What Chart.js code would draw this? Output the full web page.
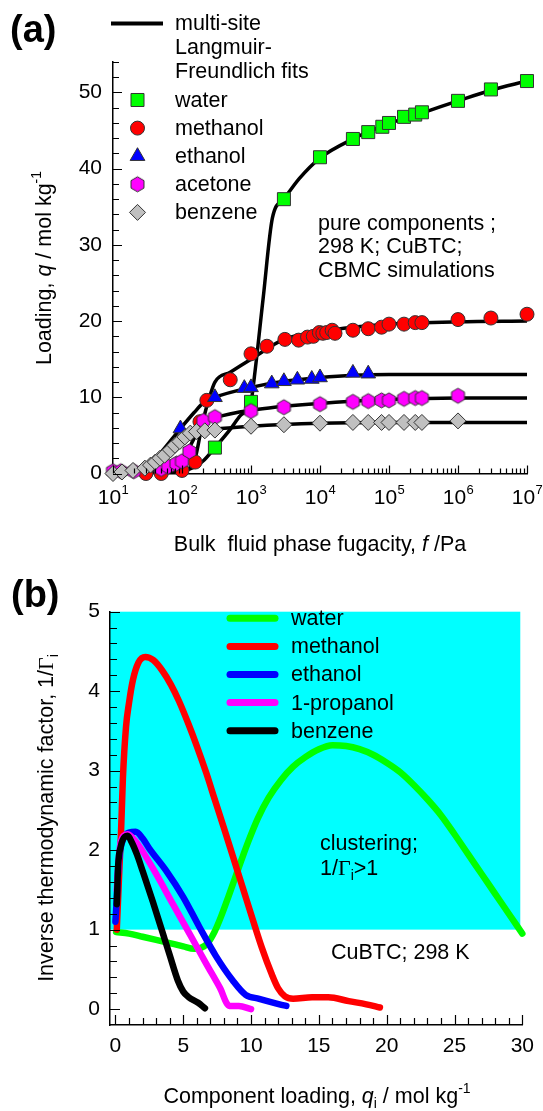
<!DOCTYPE html>
<html>
<head>
<meta charset="utf-8">
<script src="https://cdn.jsdelivr.net/npm/chart.js@4.4.1/dist/chart.umd.min.js"></script>
<style>
  body { margin: 0; background: #fff; }
  #wrap { position: relative; width: 543px; height: 1111px; }
  canvas { position: absolute; left: 0; }
</style>
</head>
<body>
<div id="wrap">
  <canvas id="iso" width="543" height="570" style="top:0"></canvas>
  <canvas id="thermo" width="543" height="541" style="top:570px"></canvas>
</div>
<script>
"use strict";

Chart.defaults.font.family = "'Liberation Sans', Arial, sans-serif";
Chart.defaults.color = '#000';
Chart.defaults.animation = false;

/* --- (a) pure component isotherms, f / Pa, q / mol kg-1 --- */

const water_f = [300, 1e3, 3e3, 1e4, 3e4, 5e4, 8e4, 1e5, 1.65e5, 2.4e5, 3e5, 1e6, 3e6, 1e7];
const water_q = [3.4, 9.4, 36.0, 41.5, 43.9, 44.8, 45.5, 46.0, 46.8, 47.1, 47.4, 48.9, 50.4, 51.5];

const methanol_f = [30, 50, 100, 155, 182, 229, 500, 1e3, 1.7e3, 3.1e3, 4.9e3, 6.6e3, 8e3, 9.8e3, 1.1e4, 1.25e4, 1.5e4, 1.65e4, 3e4, 5e4, 7.8e4, 1e5, 1.65e5, 2.4e5, 3e5, 1e6, 3e6, 1e7];
const methanol_q = [0, 0, 0.4, 1.5, 6.8, 9.6, 12.3, 15.7, 16.7, 17.6, 17.5, 17.9, 18.0, 18.5, 18.4, 18.5, 18.8, 18.4, 18.8, 19.0, 19.2, 19.6, 19.6, 19.8, 19.8, 20.2, 20.4, 20.9];

const ethanol_f = [95, 300, 800, 1e3, 2e3, 3e3, 4.7e3, 7.6e3, 1e4, 3e4, 5e4];
const ethanol_q = [5.9, 10.0, 11.2, 11.3, 11.8, 12.1, 12.3, 12.4, 12.6, 13.2, 13.1];

const acetone_f = [10, 13, 20, 50, 63, 83, 100, 128, 204, 300, 1e3, 3e3, 1e4, 3e4, 5e4, 7.8e4, 1e5, 1.65e5, 2.4e5, 3e5, 1e6];
const acetone_q = [0.3, 0.3, 0.3, 0.6, 0.9, 1.3, 1.6, 2.9, 6.9, 7.4, 8.2, 8.7, 9.1, 9.4, 9.5, 9.6, 9.6, 9.8, 9.9, 9.9, 10.2];

const benzene_f = [10, 13.5, 19.5, 29, 35, 41, 48, 56, 68, 79, 93, 110, 132, 162, 214, 300, 1e3, 3e3, 1e4, 3e4, 5e4, 7.8e4, 1e5, 1.65e5, 2.4e5, 3e5, 1e6];
const benzene_q = [0.0, 0.2, 0.4, 0.7, 1.1, 1.5, 2.0, 2.4, 3.1, 3.7, 4.2, 4.8, 5.3, 5.5, 5.6, 5.7, 6.2, 6.4, 6.6, 6.7, 6.7, 6.7, 6.7, 6.7, 6.7, 6.7, 6.9];

// multi-site Langmuir-Freundlich fits
const water_fit_f = [10, 50, 100, 155, 200, 300, 500, 700, 1e3, 1120, 1500, 2040, 3e3, 5e3, 1e4, 3e4, 1e5, 3e5, 1e6, 3e6, 1e7];
const water_fit_q = [0, 0.05, 0.3, 0.9, 1.6, 3.4, 5.8, 7.6, 9.4, 12.7, 23.0, 33.5, 36.0, 38.7, 41.4, 43.9, 45.9, 47.3, 48.9, 50.3, 51.5];
const methanol_fit_f = [10, 50, 100, 150, 200, 250, 300, 500, 1e3, 3e3, 1e4, 3e4, 1e5, 1e6, 1e7];
const methanol_fit_q = [0, 0.05, 0.4, 1.6, 6.8, 10.0, 12.0, 13.3, 15.0, 17.6, 18.6, 19.2, 19.6, 19.9, 20.0];
const ethanol_fit_f = [10, 20, 30, 50, 95, 150, 200, 300, 1e3, 3e3, 1e4, 3e4, 1e5, 1e7];
const ethanol_fit_q = [0, 0.1, 0.6, 2.8, 5.9, 8.0, 9.2, 10.0, 11.3, 12.1, 12.6, 12.9, 13.0, 13.0];
const acetone_fit_f = [10, 30, 50, 100, 150, 200, 300, 1e3, 1e4, 1e5, 1e6, 1e7];
const acetone_fit_q = [0.1, 0.35, 0.7, 1.7, 4.6, 6.6, 7.3, 8.3, 9.2, 9.7, 9.9, 9.9];
const benzene_fit_f = [10, 20, 30, 50, 100, 150, 300, 1e3, 1e4, 1e5, 1e7];
const benzene_fit_q = [0.05, 0.35, 0.8, 2.1, 4.5, 5.3, 5.8, 6.2, 6.6, 6.7, 6.7];

const decades = [1e1, 1e2, 1e3, 1e4, 1e5, 1e6, 1e7];
const decade_exp = ['1', '2', '3', '4', '5', '6', '7'];

/* --- (b) inverse thermodynamic factor vs component loading --- */

const water_x = [0.05, 1, 2, 3, 4, 5, 5.8, 6.3, 6.8, 7.3, 7.8, 8.3, 8.8, 9.3, 9.8, 10.5, 11.3, 12.2, 13.1, 14, 15, 16, 17, 18, 19, 20, 21, 22, 23, 24, 25, 26, 27, 28, 29, 30];
const water_y = [0.97, 0.95, 0.91, 0.87, 0.83, 0.79, 0.76, 0.77, 0.83, 0.97, 1.17, 1.40, 1.64, 1.88, 2.11, 2.40, 2.66, 2.88, 3.05, 3.17, 3.27, 3.32, 3.31, 3.27, 3.20, 3.10, 2.98, 2.82, 2.64, 2.44, 2.20, 1.95, 1.70, 1.45, 1.20, 0.95];
const methanol_x = [0.1, 0.2, 0.3, 0.4, 0.55, 0.78, 1.0, 1.29, 1.7, 2.2, 2.8, 3.45, 4.1, 4.7, 5.4, 6.0, 6.7, 7.3, 8.0, 8.7, 9.4, 10.1, 10.8, 11.5, 12.0, 12.5, 13.1, 14.5, 15.7, 17.2, 18.5, 19.5];
const methanol_y = [1.0, 1.4, 1.8, 2.16, 2.9, 3.55, 3.85, 4.14, 4.36, 4.43, 4.39, 4.26, 4.08, 3.87, 3.58, 3.31, 2.97, 2.65, 2.28, 1.90, 1.52, 1.14, 0.77, 0.45, 0.26, 0.16, 0.13, 0.15, 0.15, 0.10, 0.06, 0.02];
const ethanol_x = [0.0, 0.1, 0.2, 0.35, 0.6, 1.0, 1.5, 2.0, 2.5, 3.75, 5.0, 6.2, 7.4, 8.65, 9.6, 10.6, 12.1, 12.6];
const ethanol_y = [1.1, 1.4, 1.75, 2.0, 2.15, 2.22, 2.23, 2.15, 2.02, 1.74, 1.41, 1.03, 0.67, 0.36, 0.18, 0.13, 0.06, 0.04];
const propanol_x = [0.1, 0.3, 0.6, 0.9, 1.3, 1.8, 3.0, 4.24, 5.46, 6.7, 7.7, 8.4, 9.1, 10.0];
const propanol_y = [1.5, 2.0, 2.18, 2.2, 2.15, 2.04, 1.7, 1.32, 0.95, 0.57, 0.27, 0.04, 0.04, 0.0];
const benzene_x = [0.1, 0.2, 0.4, 0.7, 0.9, 1.2, 1.6, 2.0, 2.76, 3.5, 4.0, 4.6, 5.0, 5.4, 6.1, 6.6];
const benzene_y = [1.32, 1.8, 2.05, 2.17, 2.18, 2.1, 1.94, 1.74, 1.35, 0.95, 0.68, 0.36, 0.22, 0.15, 0.08, 0.01];

const thermo_names = ['water', 'methanol', 'ethanol', '1-propanol', 'benzene'];
const thermo_colors = ['#00ff00', '#ff0000', '#0000ff', '#ff00ff', '#000000'];

/* --- helpers --- */

const SANS = '"Liberation Sans", Arial, sans-serif';
const TXT = '21.5px ' + SANS;
const TXT_I = 'italic 21.5px ' + SANS;
const SMALL = '14px ' + SANS;
const TICK = '21px ' + SANS;
const SUP = '13px ' + SANS;
const GREEK = '22px "Liberation Serif", "Times New Roman", serif';

function pts(xs, ys) {
  return xs.map((x, i) => ({x: x, y: ys[i]}));
}

function hexagon(r, fill) {
  const c = document.createElement('canvas');
  c.width = c.height = Math.ceil(2 * r + 4);
  const g = c.getContext('2d');
  g.beginPath();
  for (let k = 0; k < 6; k++) {
    const a = Math.PI / 2 + k * Math.PI / 3;
    g.lineTo(c.width / 2 + r * Math.cos(a), c.height / 2 - r * Math.sin(a));
  }
  g.closePath();
  g.fillStyle = fill;
  g.fill();
  g.strokeStyle = '#333';
  g.lineWidth = 1;
  g.stroke();
  return c;
}

const hex_img = hexagon(7.5, '#ff00ff');

function markers(label, xs, ys, style, radius, fill, order) {
  return {
    label: label,
    data: pts(xs, ys),
    showLine: false,
    pointStyle: style,
    pointRadius: radius,
    pointBackgroundColor: fill,
    pointBorderColor: '#333',
    pointBorderWidth: 1,
    clip: false,
    order: order
  };
}

function fit(xs, ys) {
  return {
    data: pts(xs, ys),
    showLine: true,
    borderColor: '#000',
    borderWidth: 3.5,
    pointRadius: 0,
    cubicInterpolationMode: 'monotone',
    order: 10
  };
}

function curve(label, xs, ys, color, order) {
  return {
    label: label,
    data: pts(xs, ys),
    showLine: true,
    borderColor: color,
    borderWidth: 6.5,
    borderCapStyle: 'round',
    borderJoinStyle: 'round',
    pointRadius: 0,
    cubicInterpolationMode: 'monotone',
    clip: false,
    order: order
  };
}

// draw mixed-font text, centred (or left aligned), optionally rotated
function rich(ctx, parts, x, y, align, angle) {
  ctx.save();
  ctx.translate(x, y);
  ctx.rotate(angle || 0);
  ctx.fillStyle = '#000';
  ctx.textBaseline = 'middle';
  ctx.textAlign = 'left';
  let w = 0;
  parts.forEach(p => { ctx.font = p[1]; w += ctx.measureText(p[0]).width; });
  let cx = align === 'left' ? 0 : -w / 2;
  parts.forEach(p => {
    ctx.font = p[1];
    ctx.fillText(p[0], cx, p[2] || 0);
    cx += ctx.measureText(p[0]).width;
  });
  ctx.restore();
}

function ticksX(ctx, scale, values, len) {
  ctx.beginPath();
  values.forEach(v => {
    const p = Math.round(scale.getPixelForValue(v)) + 0.5;
    ctx.moveTo(p, scale.top);
    ctx.lineTo(p, scale.top - len);
  });
  ctx.stroke();
}

function ticksY(ctx, scale, values, len) {
  ctx.beginPath();
  values.forEach(v => {
    const p = Math.round(scale.getPixelForValue(v)) + 0.5;
    ctx.moveTo(scale.right, p);
    ctx.lineTo(scale.right + len, p);
  });
  ctx.stroke();
}

function range(a, b, step) {
  const out = [];
  for (let v = a; v <= b + 1e-9; v += step) out.push(Math.round(v * 1000) / 1000);
  return out;
}

const axis_border = {display: true, color: '#000', width: 1.5};
const no_grid = {display: false, drawTicks: false};

/* --- PANEL (a) --- */

const iso_deco = {
  id: 'iso_deco',
  afterDraw(chart) {
    const ctx = chart.ctx;
    const xs = chart.scales.x;
    const ys = chart.scales.y;
    ctx.save();
    ctx.strokeStyle = '#000';
    ctx.lineWidth = 1.2;

    // tick marks, pointing inwards
    const minor_x = [];
    for (let d = 1; d < 7; d++) for (let m = 2; m < 10; m++) minor_x.push(m * Math.pow(10, d));
    ticksX(ctx, xs, decades, 8);
    ticksX(ctx, xs, minor_x, 5);
    ticksY(ctx, ys, range(0, 50, 10), 9);
    ticksY(ctx, ys, range(2, 54, 2).filter(v => v % 10 !== 0), 6);

    // decade labels 10^n
    ctx.fillStyle = '#000';
    ctx.textBaseline = 'middle';
    ctx.textAlign = 'left';
    const ly = chart.chartArea.bottom + 24.5;
    decades.forEach((v, i) => {
      const p = xs.getPixelForValue(v);
      ctx.font = TICK;
      const w1 = ctx.measureText('10').width;
      ctx.font = SUP;
      const w2 = ctx.measureText(decade_exp[i]).width;
      const x0 = p - (w1 + w2) / 2;
      ctx.font = TICK;
      ctx.fillText('10', x0, ly);
      ctx.font = SUP;
      ctx.fillText(decade_exp[i], x0 + w1 + 0.5, ly - 8);
    });

    // axis titles
    rich(ctx, [['Loading, ', TXT], ['q', TXT_I], [' / mol kg', TXT], ['-1', SMALL, -8]], 45, 268, 'center', -Math.PI / 2);
    rich(ctx, [['Bulk  fluid phase fugacity, ', TXT], ['f', TXT_I], [' /Pa', TXT]], 320, 545, 'center');

    // panel label
    ctx.font = 'bold 38px ' + SANS;
    ctx.fillText('(a)', 10, 32);

    // legend
    ctx.lineWidth = 4;
    ctx.lineCap = 'butt';
    ctx.beginPath();
    ctx.moveTo(111, 23.5);
    ctx.lineTo(163, 23.5);
    ctx.stroke();
    ctx.font = TXT;
    ctx.fillText('multi-site', 175, 24);
    ctx.fillText('Langmuir-', 175, 48);
    ctx.fillText('Freundlich fits', 175, 72);

    const rows = [
      ['water', 'rect', 9.2, '#00ff00'],
      ['methanol', 'circle', 7, '#ff0000'],
      ['ethanol', 'triangle', 8.5, '#0000ff'],
      ['acetone', hex_img, 7.5, '#ff00ff'],
      ['benzene', 'rectRot', 8, '#c0c0c0']
    ];
    rows.forEach((r, i) => {
      const y = 100 + i * 28.1;
      ctx.fillStyle = r[3];
      ctx.strokeStyle = '#333';
      ctx.lineWidth = 1;
      Chart.helpers.drawPoint(ctx, {pointStyle: r[1], radius: r[2], borderWidth: 1, rotation: 0}, 137.5, y);
      ctx.fillStyle = '#000';
      ctx.font = TXT;
      ctx.fillText(r[0], 175, y + 1);
    });

    // note
    ctx.fillText('pure components ;', 318, 224);
    ctx.fillText('298 K; CuBTC;', 318, 247.5);
    ctx.fillText('CBMC simulations', 318, 271);
    ctx.restore();
  }
};

const iso_chart = new Chart(document.getElementById('iso'), {
  type: 'scatter',
  data: {
    datasets: [
      markers('benzene', benzene_f, benzene_q, 'rectRot', 8, '#c0c0c0', 1),
      markers('acetone', acetone_f, acetone_q, hex_img, 7.5, '#ff00ff', 2),
      markers('ethanol', ethanol_f, ethanol_q, 'triangle', 8.5, '#0000ff', 3),
      markers('methanol', methanol_f, methanol_q, 'circle', 7, '#ff0000', 4),
      markers('water', water_f, water_q, 'rect', 9.2, '#00ff00', 5),
      fit(water_fit_f, water_fit_q),
      fit(methanol_fit_f, methanol_fit_q),
      fit(ethanol_fit_f, ethanol_fit_q),
      fit(acetone_fit_f, acetone_fit_q),
      fit(benzene_fit_f, benzene_fit_q)
    ]
  },
  options: {
    responsive: false,
    animation: false,
    layout: {padding: {left: 0, right: 16, top: 62, bottom: 36.5}},
    plugins: {
      legend: {display: false},
      tooltip: {enabled: false}
    },
    scales: {
      x: {
        type: 'logarithmic',
        min: 10,
        max: 1e7,
        grid: no_grid,
        border: axis_border,
        ticks: {display: false},
        afterFit: s => { s.height = 60; }
      },
      y: {
        type: 'linear',
        min: 0,
        max: 54,
        grid: no_grid,
        border: axis_border,
        ticks: {stepSize: 10, includeBounds: false, padding: 11, font: {size: 21}, color: '#000'},
        afterFit: s => { s.width = 113; }
      }
    }
  },
  plugins: [iso_deco]
});

/* --- PANEL (b) --- */

const thermo_deco = {
  id: 'thermo_deco',
  beforeDraw(chart) {
    // clustering region 1/Gamma > 1
    const ctx = chart.ctx;
    const xs = chart.scales.x;
    const ys = chart.scales.y;
    const x0 = chart.chartArea.left;
    const x1 = xs.getPixelForValue(29.85);
    const y0 = ys.getPixelForValue(5);
    const y1 = ys.getPixelForValue(1);
    ctx.save();
    ctx.fillStyle = '#00ffff';
    ctx.fillRect(x0, y0, x1 - x0, y1 - y0);
    ctx.restore();
  },
  afterDraw(chart) {
    const ctx = chart.ctx;
    const xs = chart.scales.x;
    const ys = chart.scales.y;
    ctx.save();
    ctx.strokeStyle = '#000';
    ctx.lineWidth = 1.2;
    ticksX(ctx, xs, range(0, 30, 5), 10);
    ticksX(ctx, xs, range(0, 30, 1).filter(v => v % 5 !== 0), 7);
    ticksY(ctx, ys, range(0, 5, 1), 10);
    ticksY(ctx, ys, range(0.2, 5, 0.2).filter(v => Math.abs(v - Math.round(v)) > 0.01), 7);

    rich(ctx, [['Inverse thermodynamic factor, 1/', TXT], ['\u0393', GREEK], ['i', SMALL, 7]], 47, 248, 'center', -Math.PI / 2);
    rich(ctx, [['Component loading, ', TXT], ['q', TXT_I], ['i', SMALL, 7], [' / mol kg', TXT], ['-1', SMALL, -8]], 317, 527, 'center');

    ctx.fillStyle = '#000';
    ctx.textBaseline = 'middle';
    ctx.textAlign = 'left';
    ctx.font = 'bold 38px ' + SANS;
    ctx.fillText('(b)', 11, 27);

    // legend
    ctx.lineCap = 'round';
    ctx.lineWidth = 7;
    thermo_names.forEach((n, i) => {
      const y = 48.3 + i * 28.1;
      ctx.strokeStyle = thermo_colors[i];
      ctx.beginPath();
      ctx.moveTo(230, y);
      ctx.lineTo(275, y);
      ctx.stroke();
      ctx.font = TXT;
      ctx.fillText(n, 291, y + 1);
    });

    ctx.font = TXT;
    ctx.fillText('clustering;', 320, 274);
    rich(ctx, [['1/', TXT], ['\u0393', GREEK], ['i', SMALL, 7], ['>1', TXT]], 320, 299, 'left');
    ctx.fillText('CuBTC; 298 K', 331, 383);
    ctx.restore();
  }
};

const thermo_chart = new Chart(document.getElementById('thermo'), {
  type: 'scatter',
  data: {
    datasets: [
      curve('benzene', benzene_x, benzene_y, thermo_colors[4], 1),
      curve('1-propanol', propanol_x, propanol_y, thermo_colors[3], 2),
      curve('ethanol', ethanol_x, ethanol_y, thermo_colors[2], 3),
      curve('methanol', methanol_x, methanol_y, thermo_colors[1], 4),
      curve('water', water_x, water_y, thermo_colors[0], 5)
    ]
  },
  options: {
    responsive: false,
    animation: false,
    layout: {padding: {left: 0, right: 19.3, top: 41.7, bottom: 36}},
    plugins: {
      legend: {display: false},
      tooltip: {enabled: false}
    },
    scales: {
      x: {
        type: 'linear',
        min: -0.4,
        max: 30,
        grid: no_grid,
        border: axis_border,
        ticks: {stepSize: 5, includeBounds: false, padding: 9, maxRotation: 0, font: {size: 21}, color: '#000'},
        afterFit: s => { s.height = 50; }
      },
      y: {
        type: 'linear',
        min: -0.2,
        max: 5,
        grid: no_grid,
        border: axis_border,
        ticks: {stepSize: 1, includeBounds: false, padding: 10, font: {size: 21}, color: '#000'},
        afterFit: s => { s.width = 110; }
      }
    }
  },
  plugins: [thermo_deco]
});
</script>
</body>
</html>
